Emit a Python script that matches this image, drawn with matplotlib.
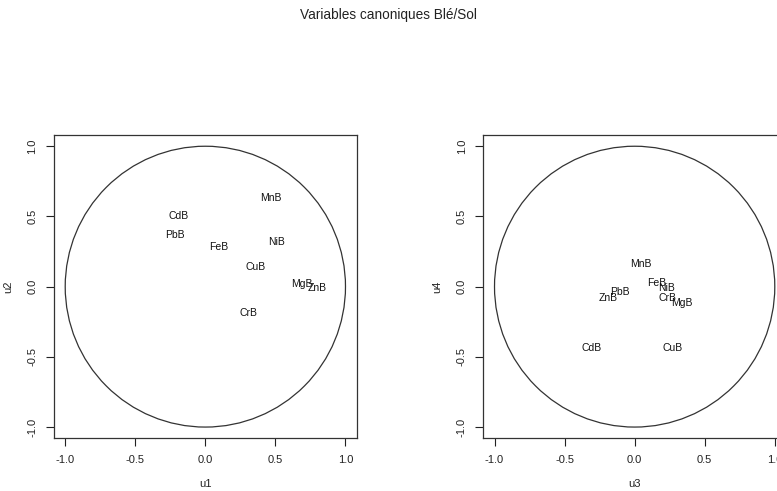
import matplotlib
matplotlib.use("Agg")
import matplotlib.pyplot as plt
from matplotlib.patches import Circle

plt.rcParams['font.family'] = ['Liberation Sans', 'DejaVu Sans']

title = "Variables canoniques Blé/Sol"
labels1 = ["MnB", "CdB", "PbB", "FeB", "NiB", "CuB", "MgB", "ZnB", "CrB"]
u1 = [0.465, -0.191, -0.217, 0.095, 0.506, 0.358, 0.687, 0.800, 0.305]
u2 = [0.632, 0.506, 0.370, 0.284, 0.317, 0.138, 0.017, -0.010, -0.191]

labels2 = ["MnB", "FeB", "NiB", "PbB", "ZnB", "CrB", "MgB", "CdB", "CuB"]
u3 = [0.045, 0.155, 0.224, -0.107, -0.190, 0.231, 0.338, -0.305, 0.274]
u4 = [0.160, 0.024, -0.012, -0.041, -0.081, -0.081, -0.115, -0.437, -0.437]

ticks = [-1.0, -0.5, 0.0, 0.5, 1.0]
ticklabels = ["-1.0", "-0.5", "0.0", "0.5", "1.0"]

fig = plt.figure(figsize=(7.77, 4.91), dpi=100)
W, H = 777, 491
pw, ph = 302.7, 303.3
positions = [(54 / W, (H - 438.3) / H, pw / W, ph / H),
             (483.3 / W, (H - 438.3) / H, pw / W, ph / H)]

panels = [(labels1, u1, u2, "u1", "u2"), (labels2, u3, u4, "u3", "u4")]
for pos, (labs, xs, ys, xl, yl) in zip(positions, panels):
    ax = fig.add_axes(pos)
    ax.set_xlim(-1.08, 1.08)
    ax.set_ylim(-1.08, 1.08)
    ax.add_patch(Circle((0, 0), 1.0, fill=False, edgecolor='#333333', lw=0.9))
    for lab, x, y in zip(labs, xs, ys):
        ax.text(x, y, lab, ha='center', va='center', fontsize=7.5, color='#111111')
    ax.set_xticks(ticks)
    ax.set_xticklabels(ticklabels)
    ax.set_yticks(ticks)
    ax.set_yticklabels(ticklabels, rotation=90, va='center')
    ax.tick_params(direction='out', length=6, width=0.8, labelsize=8, pad=6,
                   colors='#222222')
    for s in ax.spines.values():
        s.set_linewidth(0.9)
        s.set_color('#333333')
    ax.set_xlabel(xl, fontsize=8, labelpad=10, color='#222222')
    ax.set_ylabel(yl, fontsize=8, labelpad=10, color='#222222')

fig.text(0.5, 1 - 15 / H, title, ha='center', va='center', fontsize=9.8,
         color='#222222')

fig.savefig("out.png", dpi=100)
